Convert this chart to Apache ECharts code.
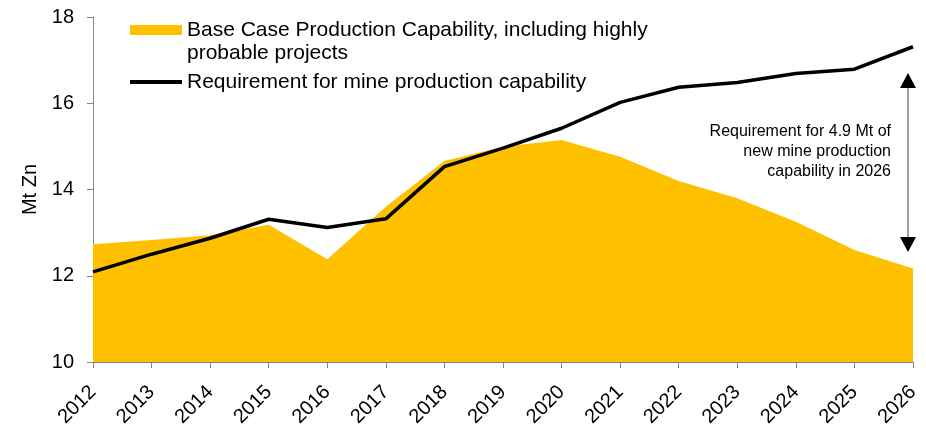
<!DOCTYPE html>
<html>
<head>
<meta charset="utf-8">
<script src="https://cdn.jsdelivr.net/npm/echarts@6/dist/echarts.min.js"></script>
<style>
  html, body { margin: 0; padding: 0; background: #fff; }
  #main { width: 926px; height: 427px; }
</style>
</head>
<body>
<div id="main"></div>
<script>
var years = ["2012","2013","2014","2015","2016","2017","2018","2019","2020","2021","2022","2023","2024","2025","2026"];
// Base case production capability (Mt Zn)
var baseCase = [12.73, 12.83, 12.94, 13.18, 12.38, 13.6, 14.66, 14.99, 15.15, 14.76, 14.2, 13.8, 13.25, 12.6, 12.17];
// requirement for mine production capability (Mt Zn)
var requirement = [12.09, 12.5, 12.87, 13.31, 13.12, 13.32, 14.53, 14.96, 15.42, 16.02, 16.37, 16.48, 16.69, 16.79, 17.31];
var arrowEnds = [16.7, 12.55];
var noteText = "Requirement for 4.9 Mt of\nnew mine production\ncapability in 2026";

var baseName = "Base Case Production Capability, including highly probable projects";
var reqName = "Requirement for mine production capability";

var FONT = "Liberation Sans, Arial, sans-serif";
var chart = echarts.init(document.getElementById("main"));

chart.setOption({
  animation: false,
  textStyle: { fontFamily: FONT },
  grid: { left: 93, right: 13, top: 17, bottom: 65, containLabel: false, outerBoundsMode: "none" },
  legend: [
    {
      // blank first line keeps the icon level with the first text line
      data: [{ name: baseName, icon: "rect" }],
      left: 130, top: -4.5, padding: 0,
      itemWidth: 52, itemHeight: 10, itemGap: 6,
      formatter: function () { return " \nBase Case Production Capability, including highly\nprobable projects"; },
      textStyle: { fontSize: 21, color: "#000", lineHeight: 23 }
    },
    {
      data: [{ name: reqName, icon: "rect", itemStyle: { color: "#000" } }],
      left: 130, top: 70.5, padding: 0,
      itemWidth: 52, itemHeight: 4, itemGap: 6,
      textStyle: { fontSize: 21, color: "#000", lineHeight: 23 }
    }
  ],
  xAxis: {
    type: "category",
    data: years,
    boundaryGap: false,
    axisLine: { lineStyle: { color: "#868686", width: 1 } },
    axisTick: { alignWithLabel: true, length: 6, lineStyle: { color: "#868686" } },
    axisLabel: { rotate: 45, fontSize: 20, color: "#000", margin: 27, interval: 0 }
  },
  yAxis: {
    type: "value",
    min: 10, max: 18, interval: 2,
    name: "Mt Zn",
    nameLocation: "middle",
    nameGap: 52,
    nameTextStyle: { fontSize: 20, color: "#000" },
    splitLine: { show: false },
    axisLine: { show: true, lineStyle: { color: "#868686", width: 1 } },
    axisTick: { show: true, length: 6, lineStyle: { color: "#868686" } },
    axisLabel: { fontSize: 20, color: "#000", margin: 19 }
  },
  series: [
    {
      name: baseName,
      type: "line",
      data: baseCase,
      symbol: "none",
      color: "#FFC000",
      lineStyle: { width: 0 },
      areaStyle: { color: "#FFC000", opacity: 1, origin: "start" },
      z: 1
    },
    {
      name: reqName,
      type: "line",
      data: requirement,
      symbol: "none",
      color: "#000",
      lineStyle: { width: 3.5, color: "#000" },
      z: 3
    }
  ]
});

// double arrow + note near the 2026 end
var ax = chart.convertToPixel({ xAxisIndex: 0 }, "2026") - 5;
var yTop = chart.convertToPixel({ yAxisIndex: 0 }, arrowEnds[0]);
var yBot = chart.convertToPixel({ yAxisIndex: 0 }, arrowEnds[1]);
chart.setOption({
  graphic: [
    { type: "line", shape: { x1: ax, y1: yTop + 14, x2: ax, y2: yBot - 14 }, style: { stroke: "#444", lineWidth: 1 }, z: 10 },
    { type: "polygon", shape: { points: [[ax, yTop], [ax - 8, yTop + 15], [ax + 8, yTop + 15]] }, style: { fill: "#000" }, z: 10 },
    { type: "polygon", shape: { points: [[ax, yBot], [ax - 8, yBot - 15], [ax + 8, yBot - 15]] }, style: { fill: "#000" }, z: 10 },
    {
      type: "text", x: ax - 17, y: 121.7, z: 10,
      style: { text: noteText, align: "right", verticalAlign: "top", fontSize: 16, fontFamily: FONT, lineHeight: 20, fill: "#000" }
    }
  ]
});
</script>
</body>
</html>
